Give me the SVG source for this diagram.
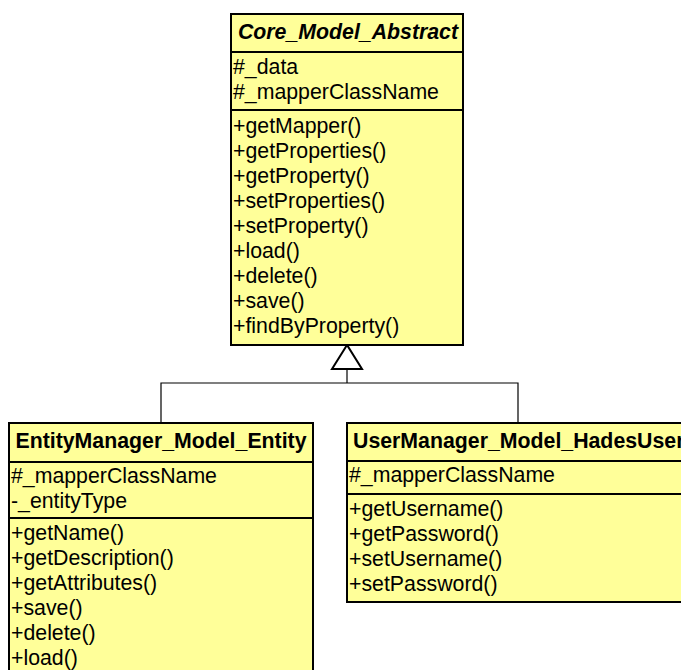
<svg xmlns="http://www.w3.org/2000/svg" width="681" height="670" viewBox="0 0 681 670">
<style>
.box{fill:#ffff99;stroke:#000;stroke-width:2}
.sep{stroke:#000;stroke-width:2}
.t{font-family:"Liberation Sans",Arial,sans-serif;font-size:21.3px;fill:#000}
.h{font-family:"Liberation Sans",Arial,sans-serif;font-size:21.3px;font-weight:bold;fill:#000}
.conn{fill:none;stroke:#000;stroke-width:1.2}
</style>
<rect width="681" height="670" fill="#fff"/>
<g id="connectors">
<polyline class="conn" points="161,423 161,383 518,383 518,423"/>
<line class="conn" x1="347" y1="383" x2="347" y2="369"/>
<polygon points="347,345 332,369 362,369" fill="#fff" stroke="#000" stroke-width="2"/>
</g>
<g id="Core_Model_Abstract">
<rect class="box" x="231" y="14" width="232" height="331"/>
<line class="sep" x1="231" y1="52" x2="463" y2="52"/>
<line class="sep" x1="231" y1="110" x2="463" y2="110"/>
<text class="h" x="348" y="39" text-anchor="middle" font-style="italic">Core_Model_Abstract</text>
<text class="t" x="233" y="74">#_data</text>
<text class="t" x="233" y="99">#_mapperClassName</text>
<text class="t" x="233" y="133">+getMapper()</text>
<text class="t" x="233" y="158">+getProperties()</text>
<text class="t" x="233" y="183">+getProperty()</text>
<text class="t" x="233" y="208">+setProperties()</text>
<text class="t" x="233" y="233">+setProperty()</text>
<text class="t" x="233" y="258">+load()</text>
<text class="t" x="233" y="283">+delete()</text>
<text class="t" x="233" y="308">+save()</text>
<text class="t" x="233" y="333">+findByProperty()</text>
</g>
<g id="EntityManager_Model_Entity">
<rect class="box" x="9" y="423" width="304" height="260"/>
<line class="sep" x1="9" y1="462" x2="313" y2="462"/>
<line class="sep" x1="9" y1="518" x2="313" y2="518"/>
<text class="h" x="161" y="448" text-anchor="middle">EntityManager_Model_Entity</text>
<text class="t" x="11" y="483">#_mapperClassName</text>
<text class="t" x="11" y="508">-_entityType</text>
<text class="t" x="11" y="540">+getName()</text>
<text class="t" x="11" y="565">+getDescription()</text>
<text class="t" x="11" y="590">+getAttributes()</text>
<text class="t" x="11" y="615">+save()</text>
<text class="t" x="11" y="640">+delete()</text>
<text class="t" x="11" y="665">+load()</text>
</g>
<g id="UserManager_Model_HadesUser">
<rect class="box" x="347" y="423" width="360" height="179"/>
<line class="sep" x1="347" y1="461" x2="707" y2="461"/>
<line class="sep" x1="347" y1="494" x2="707" y2="494"/>
<text class="h" x="353" y="448">UserManager_Model_HadesUser</text>
<text class="t" x="349" y="482">#_mapperClassName</text>
<text class="t" x="349" y="516">+getUsername()</text>
<text class="t" x="349" y="541">+getPassword()</text>
<text class="t" x="349" y="566">+setUsername()</text>
<text class="t" x="349" y="591">+setPassword()</text>
</g>
</svg>
